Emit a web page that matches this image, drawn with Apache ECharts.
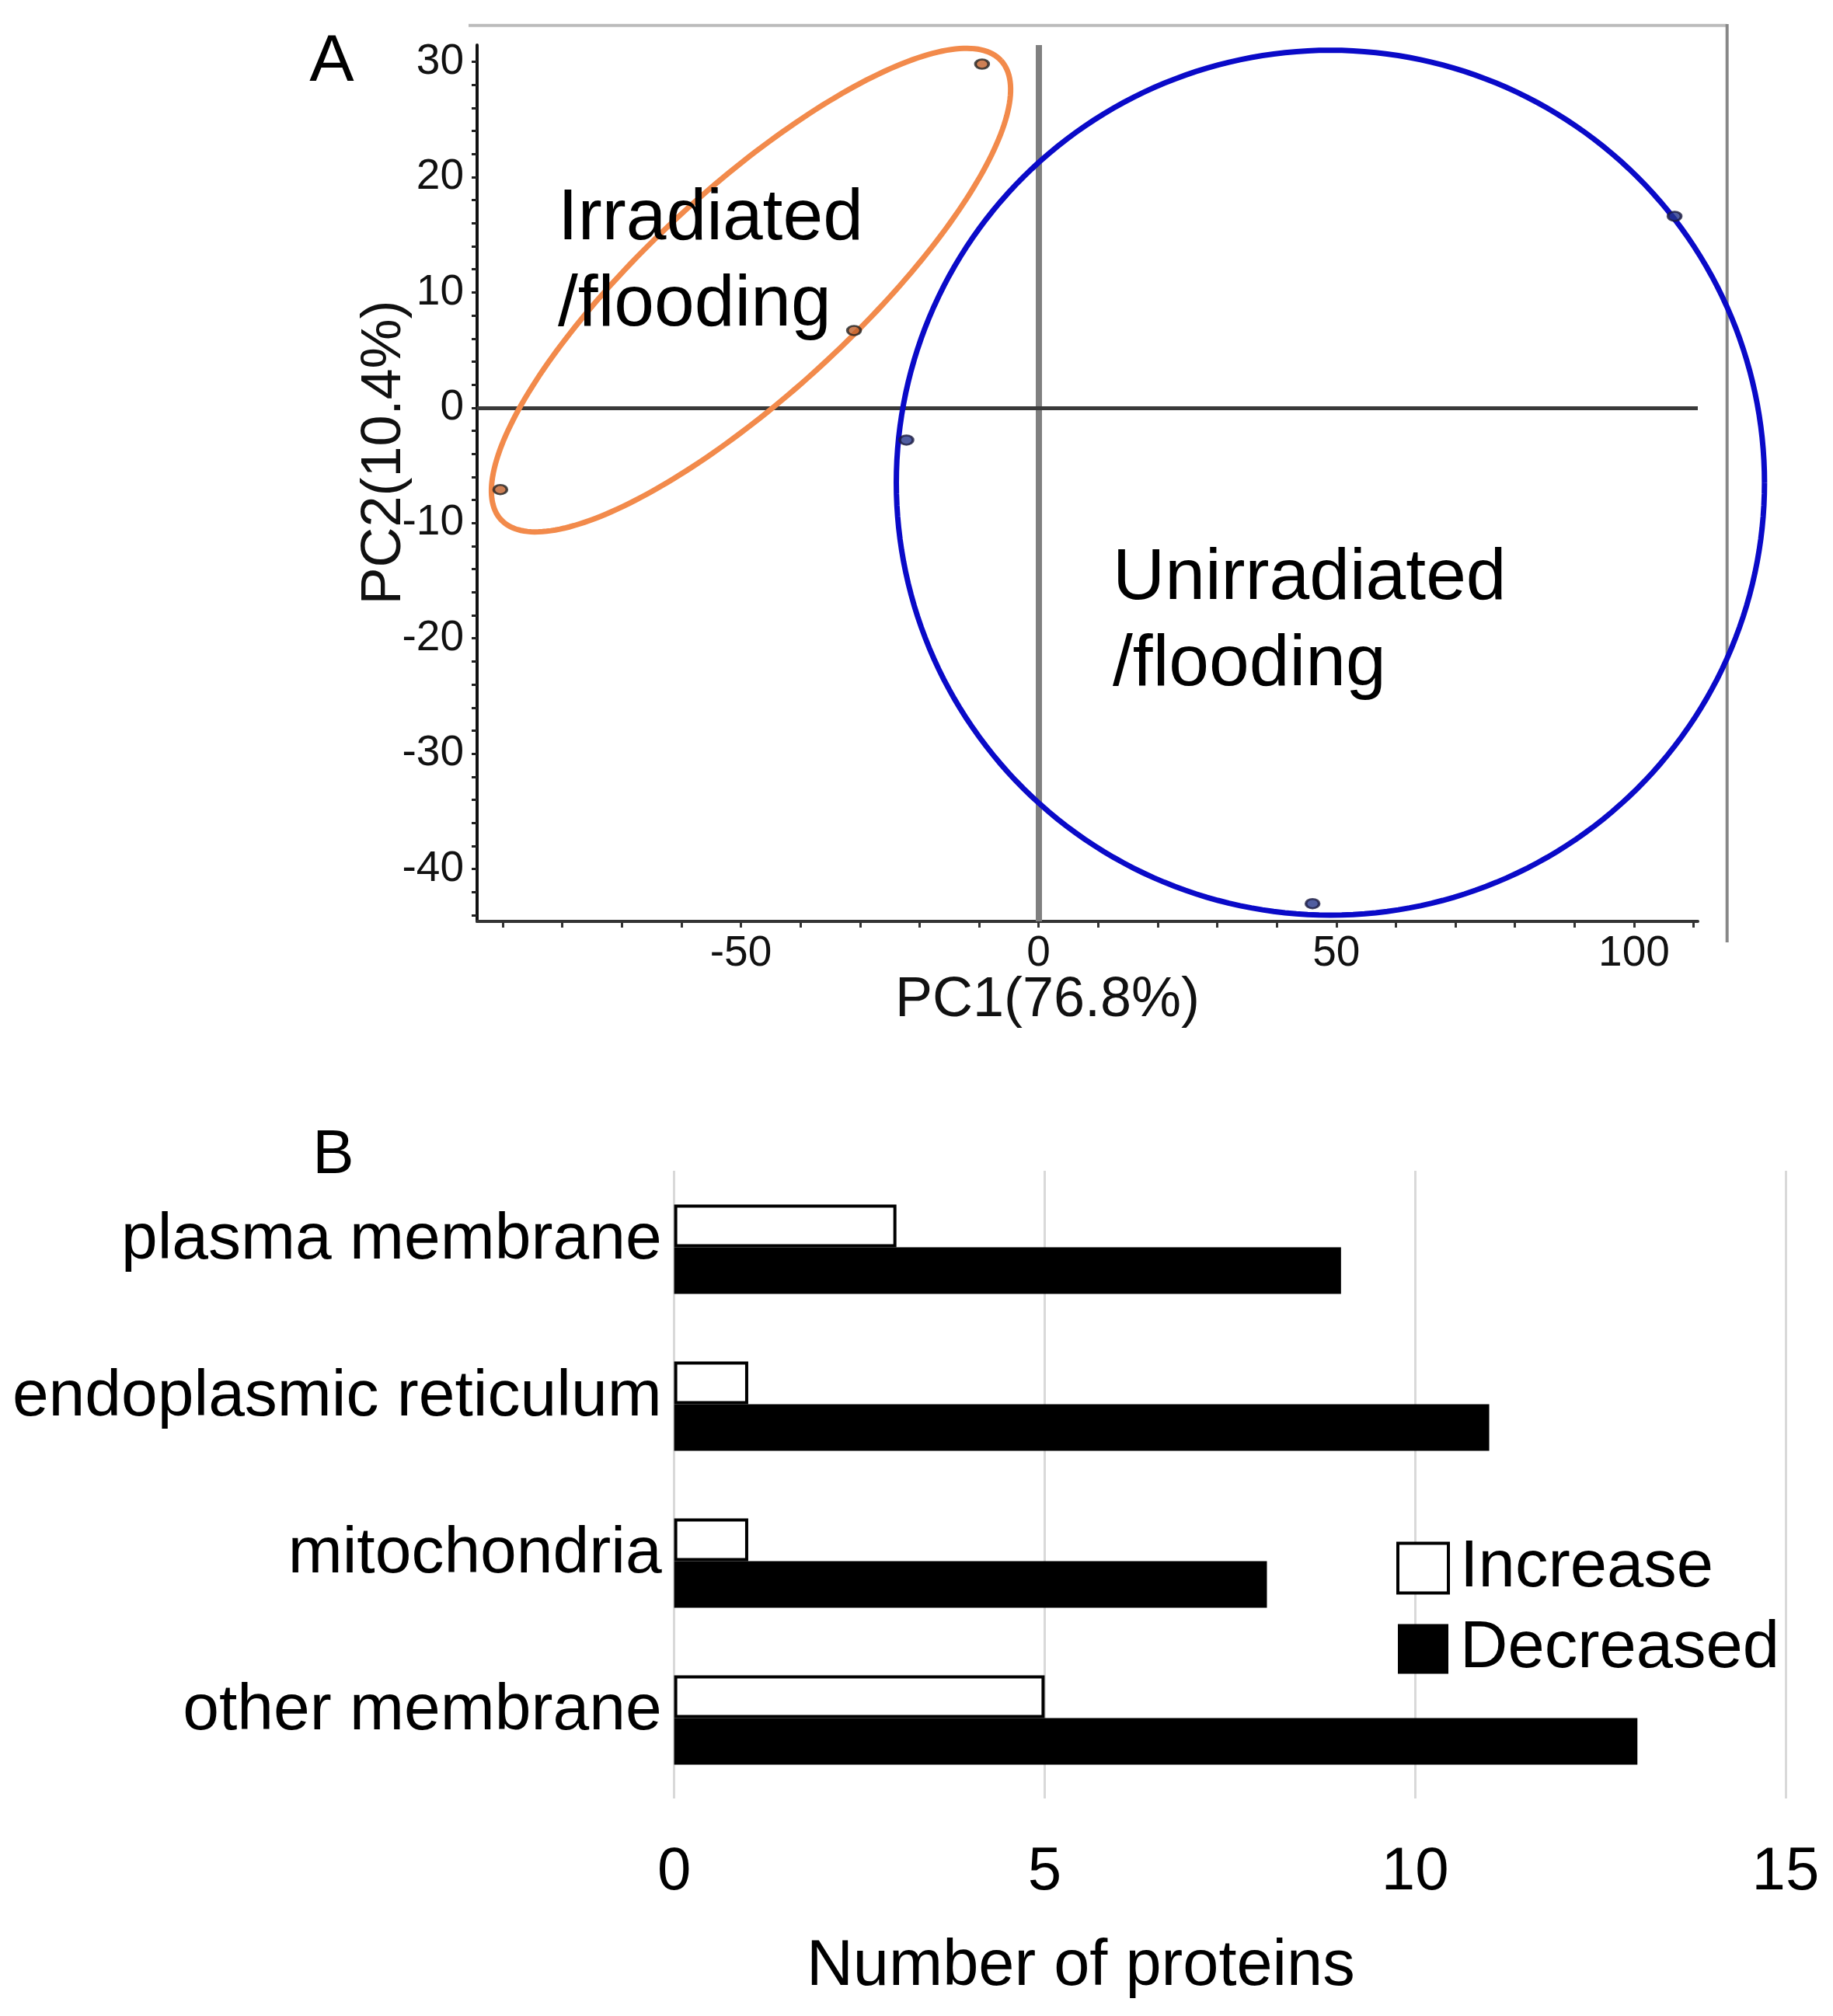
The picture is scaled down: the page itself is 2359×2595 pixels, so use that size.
<!DOCTYPE html>
<html>
<head>
<meta charset="utf-8">
<script src="https://cdn.jsdelivr.net/npm/echarts@6/dist/echarts.min.js"></script>
<style>
html,body{margin:0;padding:0;background:#fff;}
#c{width:2359px;height:2595px;}
</style>
</head>
<body>
<div id="c"></div>
<script>
// ---------- Panel A: PCA ----------
const pc1TickLabels = [-50, 0, 50, 100];
const pc2TickLabels = [-40, -30, -20, -10, 0, 10, 20, 30];
const pc1TickMarks = [-90, -80, -70, -60, -50, -40, -30, -20, -10, 0, 10, 20, 30, 40, 50, 60, 70, 80, 90, 100, 110];
const pc2TickMarks = [-44, -42, -40, -38, -36, -34, -32, -30, -28, -26, -24, -22, -20, -18, -16, -14, -12, -10, -8, -6, -4, -2, 0, 2, 4, 6, 8, 10, 12, 14, 16, 18, 20, 22, 24, 26, 28, 30];
const irradiatedPoints = [[-9.5, 29.8], [-31.0, 6.7], [-90.4, -7.1]];
const unirradiatedPoints = [[-22.2, -2.8], [106.8, 16.6], [46.0, -43.0]];
const irradiatedEllipseCenter = [-48.3, 10.2];
const irradiatedEllipseAxisA = [42.0, 19.9];
const irradiatedEllipseAxisB = [11.7, -6.6];
const unirradiatedEllipseCenter = [49.0, -6.5];
const unirradiatedEllipseAxisA = [72.9, 0];
const unirradiatedEllipseAxisB = [0, 37.5];

// ---------- Panel B: bar chart ----------
const categories = ['plasma membrane', 'endoplasmic reticulum', 'mitochondria', 'other membrane'];
const increaseCounts = [3, 1, 1, 5];
const decreasedCounts = [9, 11, 8, 13];

const FONT = 'Liberation Sans, Arial, sans-serif';
const ORANGE = '#F28A4B';
const BLUE = '#0A0AC8';

function ellipseRenderer(center, axA, axB, color) {
  return function (params, api) {
    const pts = [];
    const n = 240;
    for (let i = 0; i <= n; i++) {
      const t = 2 * Math.PI * i / n;
      const c = Math.cos(t), s = Math.sin(t);
      pts.push(api.coord([
        center[0] + c * axA[0] + s * axB[0],
        center[1] + c * axA[1] + s * axB[1]
      ]));
    }
    return {
      type: 'polyline',
      shape: { points: pts },
      style: { stroke: color, lineWidth: 7, fill: null },
      silent: true
    };
  };
}

const chart = echarts.init(document.getElementById('c'), null, { renderer: 'canvas', width: 2359, height: 2595 });

const option = {
  animation: false,
  backgroundColor: '#ffffff',
  grid: [
    { left: 614, top: 58, width: 1571, height: 1128 },
    { left: 867.6, top: 1507, width: 1430.4, height: 808 }
  ],
  xAxis: [
    {
      type: 'value', gridIndex: 0, min: -94.3, max: 110.7,
      name: 'PC1(76.8%)', nameLocation: 'middle', nameGap: 66, nameMoveOverlap: false,
      nameTextStyle: { fontSize: 72, fontFamily: FONT, color: '#111', padding: [0, 103, 0, 0] },
      axisLine: { onZero: false, lineStyle: { color: '#333', width: 4 } },
      axisTick: { show: true, customValues: pc1TickMarks, length: 8, lineStyle: { color: '#333', width: 3 } },
      axisLabel: { customValues: pc1TickLabels, margin: 14, fontSize: 55, fontFamily: FONT, color: '#111' },
      splitLine: { show: false }
    },
    {
      type: 'value', gridIndex: 1, min: 0, max: 15, interval: 5,
      name: 'Number of proteins', nameLocation: 'middle', nameGap: 176, nameMoveOverlap: false,
      nameTextStyle: { fontSize: 83, fontFamily: FONT, color: '#000', padding: [0, 384, 0, 0] },
      axisLine: { show: false },
      axisTick: { show: false },
      axisLabel: { margin: 56, fontSize: 78, fontFamily: FONT, color: '#000' },
      splitLine: { show: true, lineStyle: { color: '#d9d9d9', width: 3 } }
    }
  ],
  yAxis: [
    {
      type: 'value', gridIndex: 0, min: -44.54, max: 31.45,
      name: 'PC2(10.4%)', nameLocation: 'middle', nameGap: 83, nameMoveOverlap: false,
      nameTextStyle: { fontSize: 72, fontFamily: FONT, color: '#111', padding: [0, 0, 0, 79] },
      axisLine: { onZero: false, lineStyle: { color: '#111', width: 4 } },
      axisTick: { show: true, customValues: pc2TickMarks, length: 7, lineStyle: { color: '#222', width: 3 } },
      axisLabel: { customValues: pc2TickLabels, margin: 17, fontSize: 55, fontFamily: FONT, color: '#111' },
      splitLine: { show: false }
    },
    {
      type: 'category', gridIndex: 1, data: categories, inverse: true,
      axisLine: { show: false },
      axisTick: { show: false },
      axisLabel: {
        margin: 16,
        formatter: function (v) { return '{c|' + v + '}'; },
        rich: { c: { fontSize: 84, fontFamily: FONT, color: '#000', padding: [0, 0, 22, 0] } }
      },
      splitLine: { show: false }
    }
  ],
  legend: {
    orient: 'vertical', left: 1797, top: 1976, padding: 0,
    itemWidth: 65, itemHeight: 64, itemGap: 19,
    textStyle: { fontSize: 85, fontFamily: FONT, color: '#000', padding: [0, 0, 0, 10] },
    data: [
      { name: 'Increase', icon: 'rect', itemStyle: { color: '#fff', borderColor: '#000', borderWidth: 4 } },
      { name: 'Decreased', icon: 'rect', itemStyle: { color: '#000', borderColor: '#000', borderWidth: 0 } }
    ]
  },
  graphic: [
    { type: 'line', shape: { x1: 603, y1: 32.7, x2: 2222.7, y2: 32.7 }, style: { stroke: '#bbbbbb', lineWidth: 4 }, silent: true },
    { type: 'line', shape: { x1: 2222.7, y1: 31, x2: 2222.7, y2: 1213 }, style: { stroke: '#888888', lineWidth: 4 }, silent: true },
    { type: 'text', x: 427, y: 80, style: { text: 'A', fontSize: 86, fontFamily: FONT, fill: '#000', align: 'center', verticalAlign: 'middle' }, silent: true },
    { type: 'text', x: 429, y: 1488, style: { text: 'B', fontSize: 80, fontFamily: FONT, fill: '#000', align: 'center', verticalAlign: 'middle' }, silent: true },
    { type: 'text', x: 718, y: 338, style: { text: 'Irradiated\n/flooding', fontSize: 93, lineHeight: 111, fontFamily: FONT, fill: '#000', align: 'left', verticalAlign: 'middle' }, silent: true, z: 10 },
    { type: 'text', x: 1432, y: 801, style: { text: 'Unirradiated\n/flooding', fontSize: 93, lineHeight: 111, fontFamily: FONT, fill: '#000', align: 'left', verticalAlign: 'middle' }, silent: true, z: 10 }
  ],
  series: [
    {
      type: 'custom', name: 'irradiatedEllipse', xAxisIndex: 0, yAxisIndex: 0, clip: false,
      renderItem: ellipseRenderer(irradiatedEllipseCenter, irradiatedEllipseAxisA, irradiatedEllipseAxisB, ORANGE),
      data: [irradiatedEllipseCenter], encode: { x: 0, y: 1 }, z: 3, silent: true
    },
    {
      type: 'custom', name: 'unirradiatedEllipse', xAxisIndex: 0, yAxisIndex: 0, clip: false,
      renderItem: ellipseRenderer(unirradiatedEllipseCenter, unirradiatedEllipseAxisA, unirradiatedEllipseAxisB, BLUE),
      data: [unirradiatedEllipseCenter], encode: { x: 0, y: 1 }, z: 3, silent: true
    },
    {
      type: 'scatter', name: 'Irradiated/flooding', xAxisIndex: 0, yAxisIndex: 0,
      data: irradiatedPoints, symbol: 'circle', symbolSize: [17, 12], z: 5,
      itemStyle: { color: '#c0602a', borderColor: '#222', borderWidth: 3 },
      markLine: {
        silent: true, symbol: ['none', 'none'], label: { show: false }, z: 2,
        data: [
          { xAxis: 0, lineStyle: { color: '#808080', width: 8, type: 'solid' } },
          { yAxis: 0, lineStyle: { color: '#3a3a3a', width: 5, type: 'solid' } }
        ]
      }
    },
    {
      type: 'scatter', name: 'Unirradiated/flooding', xAxisIndex: 0, yAxisIndex: 0,
      data: unirradiatedPoints, symbol: 'circle', symbolSize: [17, 12], z: 5,
      itemStyle: { color: '#243488', borderColor: '#1a1a40', borderWidth: 3 }
    },
    {
      type: 'bar', name: 'Increase', xAxisIndex: 1, yAxisIndex: 1,
      data: increaseCounts, barWidth: 55, barGap: '0%',
      itemStyle: { color: '#ffffff', borderColor: '#000', borderWidth: 4 }
    },
    {
      type: 'bar', name: 'Decreased', xAxisIndex: 1, yAxisIndex: 1,
      data: decreasedCounts, barWidth: 60, barGap: '0%',
      itemStyle: { color: '#000000' }
    }
  ]
};
chart.setOption(option);
</script>
</body>
</html>
